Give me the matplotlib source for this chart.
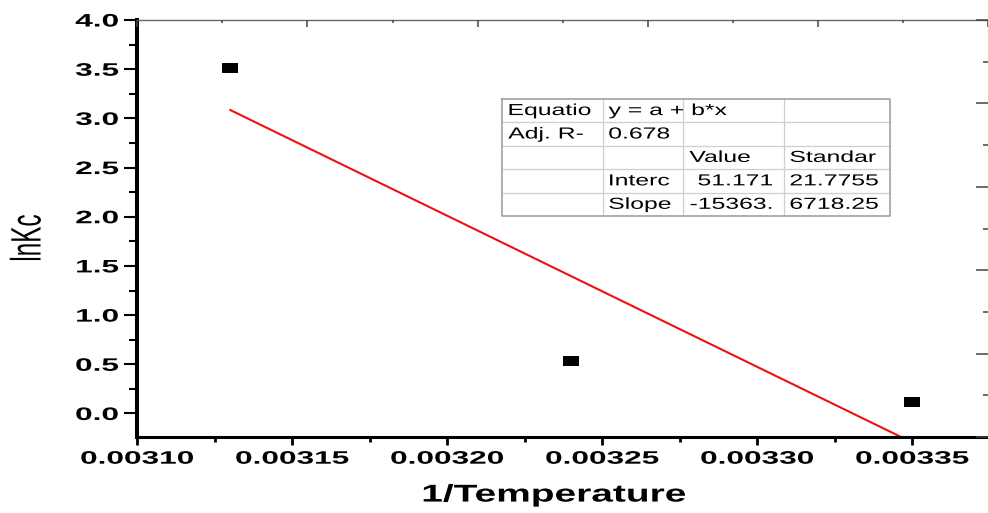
import numpy as np
import matplotlib
matplotlib.use("Agg")
import matplotlib.pyplot as plt
from matplotlib.patheffects import AbstractPathEffect
from matplotlib.transforms import Affine2D
from matplotlib.ticker import MultipleLocator, FormatStrFormatter

plt.rcParams['font.family'] = ['Liberation Sans', 'DejaVu Sans']

# measured points: 1/T against ln Kc
inv_temp = [0.00313, 0.00324, 0.00335]
ln_kc = [3.51, 0.53, 0.12]

# linear fit y = a + b*x
fit_a = 51.171
fit_b = -15363.0

table_rows = [
    ["Equatio", "y = a + b*x", "", ""],
    ["Adj. R-", "0.678", "", ""],
    ["", "", "Value", "Standar"],
    ["", "Interc", "51.171", "21.7755"],
    ["", "Slope", "-15363.", "6718.25"],
]

x_ticks = [0.00310, 0.00315, 0.00320, 0.00325, 0.00330, 0.00335]
y_ticks = [0.0, 0.5, 1.0, 1.5, 2.0, 2.5, 3.0, 3.5, 4.0]


class Stretch(AbstractPathEffect):
    """Widen text glyphs horizontally about one side or the middle."""
    def __init__(self, sx, anchor="center"):
        super().__init__()
        self.sx = sx
        self.anchor = anchor

    def draw_path(self, renderer, gc, tpath, affine, rgbFace=None):
        ext = tpath.get_extents(affine)
        x0 = {"left": ext.x0, "center": 0.5 * (ext.x0 + ext.x1), "right": ext.x1}[self.anchor]
        aff = affine + Affine2D().translate(-x0, 0).scale(self.sx, 1.0).translate(x0, 0)
        renderer.draw_path(gc, tpath, aff, rgbFace)


fig = plt.figure(figsize=(9.88, 5.13), dpi=100)
ax = fig.add_axes([0.139, 0.148, 0.861, 0.813])

ax.set_xlim(0.0031, 0.0033744)
ax.set_ylim(-0.24, 4.0)

# fit line over the data range, clipped by the axes
xf = np.array([min(inv_temp), max(inv_temp)])
ax.plot(xf, fit_a + fit_b * xf, color="#ee1111", lw=1.5, zorder=2)

rect = [(-1, -0.6), (1, -0.6), (1, 0.6), (-1, 0.6), (-1, -0.6)]
ax.plot(inv_temp, ln_kc, ls="none", marker=rect, ms=11, color="black", mew=0, zorder=3)

# spines
ax.spines["left"].set_linewidth(2.9)
ax.spines["bottom"].set_linewidth(2.2)
ax.spines["top"].set_linewidth(1.0)
ax.spines["top"].set_color("#666666")
ax.spines["right"].set_visible(False)

ax.set_xticks(x_ticks)
ax.set_yticks(y_ticks)
ax.xaxis.set_minor_locator(MultipleLocator(0.000025))
ax.yaxis.set_minor_locator(MultipleLocator(0.25))
ax.xaxis.set_major_formatter(FormatStrFormatter("%.5f"))
ax.yaxis.set_major_formatter(FormatStrFormatter("%.1f"))
ax.tick_params(axis="x", which="major", direction="out", length=5.8, width=2.0, pad=4)
ax.tick_params(axis="x", which="minor", direction="out", length=3.6, width=2.0)
ax.tick_params(axis="y", which="major", direction="out", length=9.4, width=1.5, pad=4)
ax.tick_params(axis="y", which="minor", direction="out", length=5.8, width=1.5)

for lab in ax.get_xticklabels():
    lab.set_fontweight("bold")
    lab.set_fontsize(13)
    lab.set_path_effects([Stretch(1.75, "center")])
for lab in ax.get_yticklabels():
    lab.set_fontweight("bold")
    lab.set_fontsize(13)
    lab.set_path_effects([Stretch(1.75, "right")])

xl = ax.set_xlabel("1/Temperature", fontsize=17.5, fontweight="bold", va="center")
xl.set_path_effects([Stretch(1.6, "center")])
ax.xaxis.set_label_coords(0.4897, -0.139)
yl = ax.set_ylabel("lnKc", fontsize=17.5, va="center")
yl.set_path_effects([Stretch(1.75, "center")])
ax.yaxis.set_label_coords(-0.1285, 0.477)

# top and right frame ticks
top = ax.twiny()
top.set_xlim(0, 1)
top.xaxis.set_major_locator(MultipleLocator(0.2))
top.xaxis.set_minor_locator(MultipleLocator(0.1))
top.tick_params(axis="x", which="major", direction="in", length=5, width=1.1, color="#444444", labeltop=False)
top.tick_params(axis="x", which="minor", direction="in", length=2.5, width=1.1, color="#444444")
for s in top.spines.values():
    s.set_visible(False)

right = ax.twinx()
right.set_ylim(0, 1)
right.yaxis.set_major_locator(MultipleLocator(0.2))
right.yaxis.set_minor_locator(MultipleLocator(0.1))
right.tick_params(axis="y", which="major", direction="in", length=8.6, width=1.1, color="#444444", labelright=False)
right.tick_params(axis="y", which="minor", direction="in", length=3.6, width=1.1, color="#444444")
for s in right.spines.values():
    s.set_visible(False)

# fit result table
col_edges = [0.429, 0.547, 0.642, 0.760, 0.885]
row_top, row_bot = 0.811, 0.530
row_edges = np.linspace(row_top, row_bot, len(table_rows) + 1)
for yv in row_edges[1:-1]:
    ax.plot([col_edges[0], col_edges[-1]], [yv, yv], color="#cfcfcf", lw=0.9, transform=ax.transAxes)
for xv in col_edges[1:-1]:
    ax.plot([xv, xv], [row_bot, row_top], color="#cfcfcf", lw=0.9, transform=ax.transAxes)
ax.plot([col_edges[0], col_edges[-1], col_edges[-1], col_edges[0], col_edges[0]],
        [row_top, row_top, row_bot, row_bot, row_top], color="#999999", lw=1.1, transform=ax.transAxes)

for i, row in enumerate(table_rows):
    yc = 0.5 * (row_edges[i] + row_edges[i + 1])
    for j, txt in enumerate(row):
        if not txt:
            continue
        if j == 2 and txt[0] in "-0123456789":
            t = ax.text(col_edges[j + 1] - 0.013, yc, txt, ha="right", va="center",
                        fontsize=11.5, transform=ax.transAxes)
            t.set_path_effects([Stretch(1.55, "right")])
        else:
            t = ax.text(col_edges[j] + 0.007, yc, txt, ha="left", va="center",
                        fontsize=11.5, transform=ax.transAxes)
            t.set_path_effects([Stretch(1.55, "left")])

fig.savefig("out.png", dpi=100)
